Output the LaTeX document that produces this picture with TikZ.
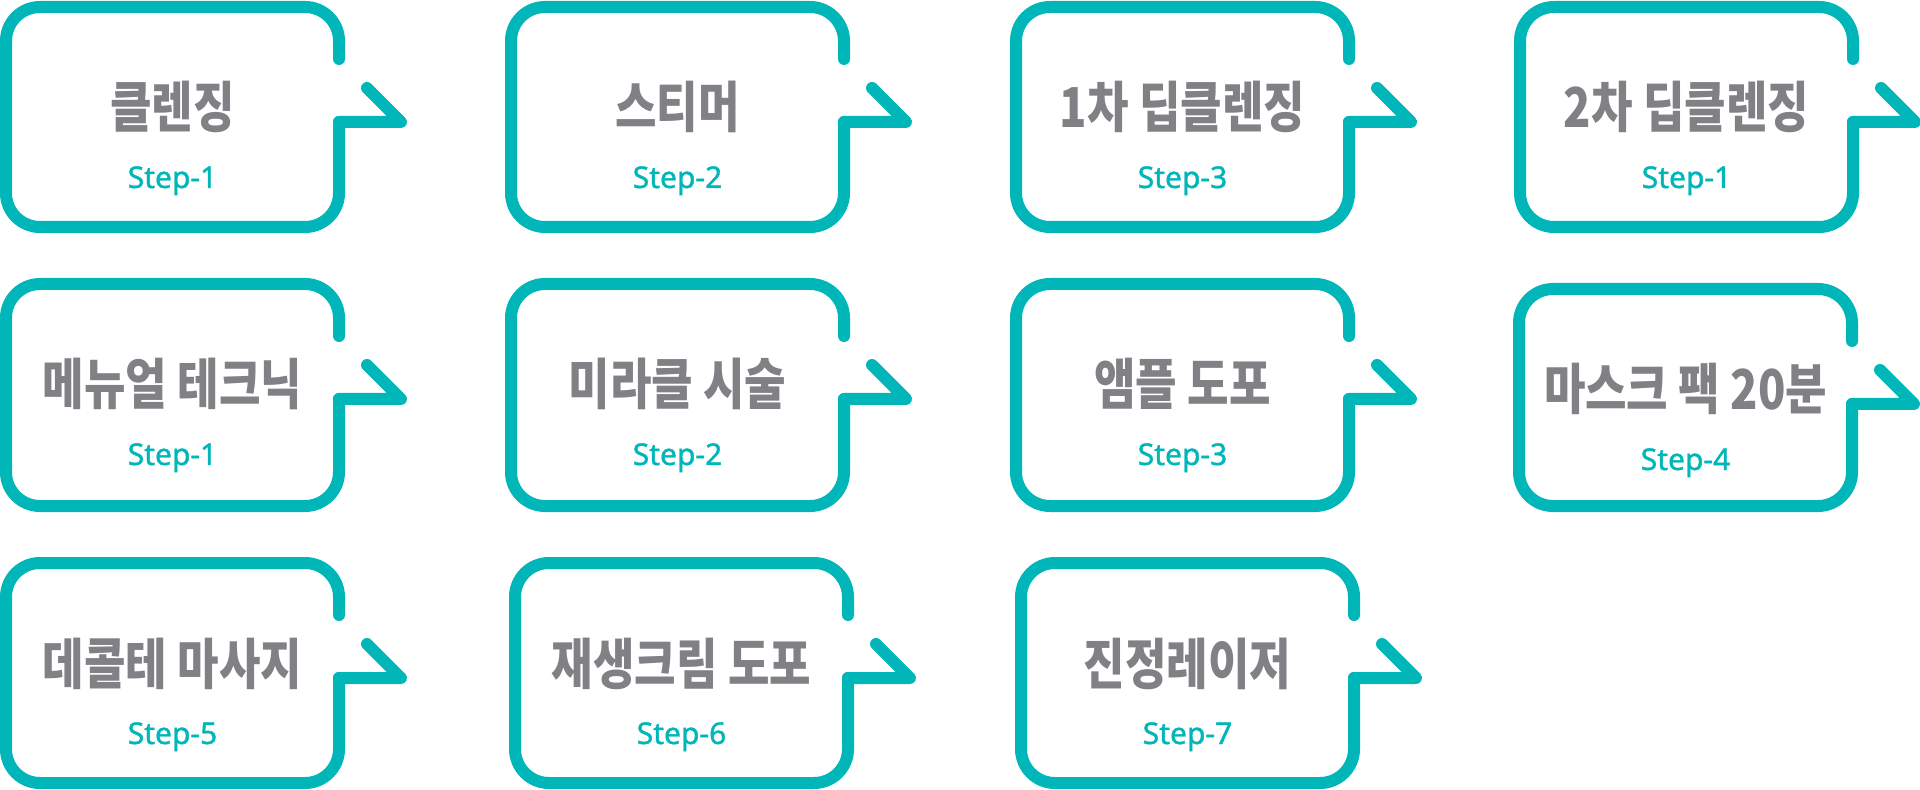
\documentclass[tikz,border=0pt]{standalone}
\usepackage{fontspec}
\setmainfont{Noto Sans}
\newfontfamily\krfont[FakeStretch=0.82]{Noto Sans CJK KR}
\newfontfamily\stepfont[FakeBold=1.3]{Noto Sans}
\usetikzlibrary{calc}
\definecolor{bubbleteal}{HTML}{00B6B8}
\definecolor{titlegray}{HTML}{808085}

\begin{document}
\begin{tikzpicture}[x=0.5pt, y=-0.5pt,
    bubble/.style={draw=bubbleteal, line width=6pt, line cap=round, line join=round},
    titletext/.style={font=\krfont\bfseries\fontsize{27.5}{30}\selectfont, text=titlegray, anchor=base, inner sep=0pt},
    steptext/.style={font=\stepfont\fontsize{15}{17}\selectfont, text=bubbleteal, anchor=base, inner sep=0pt}]
    % Canvas in pixels, y pointing down
    \useasboundingbox (0,0) rectangle (1920,790);

    % One speech bubble per step: left/top/height/index/title/step number
    \foreach \bx/\by/\bh/\i/\btitle/\stepno in {
        6/7/220/1/클렌징/1,
        511/7/220/2/스티머/2,
        1016/7/220/3/1차 딥클렌징/3,
        1520/7/220/4/2차 딥클렌징/1,
        6/284/222/5/메뉴얼 테크닉/1,
        511/284/222/6/미라클 시술/2,
        1016/284/222/7/앰플 도포/3,
        1519/289/217/8/마스크 팩 20분/4,
        6/563/220/9/데콜테 마사지/5,
        515/563/220/10/재생크림 도포/6,
        1021/563/220/11/진정레이저/7} {
        \coordinate (corner\i) at (\bx,\by);

        % Body outline, open on the right side
        \draw[bubble, rounded corners=17pt] ($(corner\i)+(333,52)$) -- ++(0,-52)
            -- (corner\i) -- ++(0,\bh) -- ++(333,0) -- ($(corner\i)+(333,115)$);

        % Pointer
        \draw[bubble] ($(corner\i)+(333,115)$) -- ++(62,0) -- ++(-34,-34);

        % Labels
        \node[titletext] (title\i) at ($(corner\i)+(166.5,121)$) {\btitle};
        \node[steptext] (step\i) at ($(corner\i)+(166.5,181)$) {Step-\stepno};
    }
\end{tikzpicture}
\end{document}
